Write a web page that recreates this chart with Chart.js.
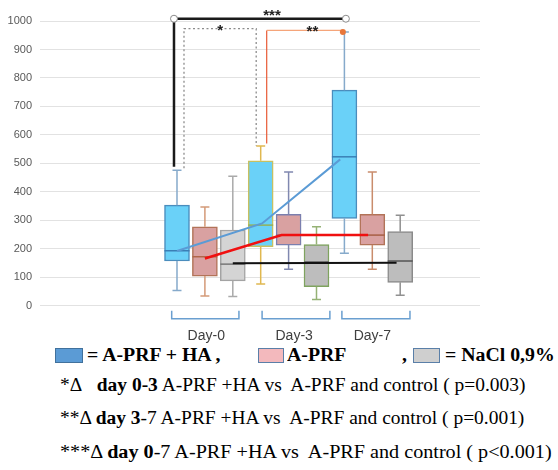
<!DOCTYPE html>
<html>
<head>
<meta charset="utf-8">
<script src="https://cdn.jsdelivr.net/npm/chart.js@4.4.1/dist/chart.umd.min.js"></script>
<style>
  body { margin: 0; background: #fff; width: 558px; height: 470px; position: relative; overflow: hidden; font-family: "Liberation Serif", serif; color: #000; }
  #wrap { position: absolute; left: 0; top: 0; width: 558px; height: 345px; }
  .sq { position: absolute; top: 348px; height: 15px; box-sizing: border-box; border: 1.5px solid #5a7fa8; }
  .lg { position: absolute; top: 345px; font-weight: bold; font-size: 18px; line-height: 20px; white-space: pre; transform: scaleX(1.1); transform-origin: left center; }
  .note { position: absolute; left: 60px; font-size: 18px; line-height: 20px; white-space: pre; transform: scaleX(1.08); transform-origin: left center; }
</style>
</head>
<body>
<div id="wrap"><canvas id="chart"></canvas></div>

<div class="sq" style="left:55px;width:28px;background:#5b9bd5;border-color:#41719c"></div>
<div class="lg" style="left:87px">= A-PRF + HA ,</div>
<div class="sq" style="left:258px;width:26px;background:#f3b9bd"></div>
<div class="lg" style="left:287px">A-PRF</div>
<div class="lg" style="left:402px">,</div>
<div class="sq" style="left:413px;width:27px;background:#cfcfcf"></div>
<div class="lg" style="left:445px">= NaCl 0,9%</div>

<div class="note" style="top:375px">*Δ&nbsp;&nbsp;&nbsp;<b>day 0-3</b> A-PRF +HA vs&nbsp; A-PRF and control ( p=0.003)</div>
<div class="note" style="top:408px">**Δ <b>day 3</b>-7 A-PRF +HA vs&nbsp; A-PRF and control ( p=0.001)</div>
<div class="note" style="top:442px;transform:scaleX(1.12)">***Δ <b>day 0</b>-7 A-PRF +HA vs&nbsp; A-PRF and control ( p&lt;0.001)</div>

<script>
// days along the x axis, three boxes per day: A-PRF + HA, A-PRF, NaCl 0,9%
const days = ['Day-0', 'Day-3', 'Day-7'];
const dayPos = [1.05, 4.2, 7.0];
const dayFrom = [-0.19, 3.05, 5.91];
const dayTo = [2.22, 5.48, 8.35];

const boxPos = [0, 1, 2, 3, 4, 5, 6, 7, 8];
const whiskerLow  = [53, 34, 32, 76, 128, 22, 184, 128, 37];
const q1          = [157, 104, 87, 207, 213, 67, 307, 213, 82];
const median      = [193, 172, 146, 283, 248, 154, 523, 248, 157];
const q3          = [353, 277, 266, 509, 321, 215, 757, 321, 260];
const whiskerHigh = [476, 347, 455, 561, 470, 277, 961, 470, 318];

// trend lines
const haX = [0, 3.05, 5.85];
const haMean = [192, 289, 514];
const prfX = [1, 3.75, 6.85];
const prfMean = [166, 248, 248];
const naclX = [2, 5, 7.87];
const naclMean = [149, 150, 151];

// significance brackets
const sigLabels = ['*', '**', '***'];
const sigFrom = [0, 3, 0];
const sigTo = [3, 6, 6];
const sigLevel = [973, 967, 1008];
const sigStart = [483, 570, 488];
const sigEnd = [561, 961, 1008];

const boxFill = ['#6ad1f8', '#d9a1a1', '#d4d4d4', '#6ad1f8', '#d9a1a1', '#bdbdbd', '#6ad1f8', '#d9a1a1', '#bdbdbd'];
const boxBorder = ['#4a8dbd', '#b27358', '#a3a3a3', '#c8c060', '#7b7fae', '#7fa35f', '#4a8dbd', '#b27358', '#8a8a8a'];
const whiskerColor = ['#86aacb', '#d49a78', '#aaaaaa', '#e0b850', '#8088b0', '#95b275', '#86aacb', '#c98c6c', '#909090'];
const medianColor = ['#3a7fb5', '#b0664a', '#777777', '#94b058', '#8a6a8a', '#6a6a6a', '#3a7fb5', '#a85f45', '#555555'];

const boxExtras = {
  id: 'boxExtras',
  afterDatasetDraw(chart, args) {
    if (args.index !== 0) return;
    const { ctx, scales: { x, y } } = chart;
    const half = 12.5, cap = 4.5;
    ctx.save();
    ctx.lineWidth = 1.5;
    boxPos.forEach((p, i) => {
      const cx = x.getPixelForValue(p);
      const hi = y.getPixelForValue(whiskerHigh[i]);
      const lo = y.getPixelForValue(whiskerLow[i]);
      ctx.strokeStyle = whiskerColor[i];
      ctx.beginPath();
      ctx.moveTo(cx, y.getPixelForValue(q3[i])); ctx.lineTo(cx, hi);
      ctx.moveTo(cx - cap, hi); ctx.lineTo(cx + cap, hi);
      ctx.moveTo(cx, y.getPixelForValue(q1[i])); ctx.lineTo(cx, lo);
      ctx.moveTo(cx - cap, lo); ctx.lineTo(cx + cap, lo);
      ctx.stroke();
      const m = y.getPixelForValue(median[i]);
      ctx.strokeStyle = medianColor[i];
      ctx.beginPath();
      ctx.moveTo(cx - half, m); ctx.lineTo(cx + half, m);
      ctx.stroke();
    });
    ctx.restore();
  }
};

const annotations = {
  id: 'annotations',
  afterDraw(chart) {
    const { ctx, scales: { x, y }, chartArea } = chart;
    ctx.save();

    // day brackets under the axis
    ctx.strokeStyle = '#6a9fd0';
    ctx.lineWidth = 1.5;
    const b0 = chartArea.bottom + 5, b1 = chartArea.bottom + 13;
    days.forEach((d, i) => {
      const l = x.getPixelForValue(dayFrom[i]), r = x.getPixelForValue(dayTo[i]);
      ctx.beginPath();
      ctx.moveTo(l, b0); ctx.lineTo(l, b1); ctx.lineTo(r, b1); ctx.lineTo(r, b0);
      ctx.stroke();
    });

    // significance brackets
    const legOff = [[7, -4.5], [6, -1.5], [-3, 1.5]];
    const labelAt = [0.5, 0.6, 0.57];
    const labelDy = [6, 6, 1];
    sigLabels.forEach((lab, i) => {
      const l = x.getPixelForValue(boxPos[sigFrom[i]]) + legOff[i][0];
      const r = x.getPixelForValue(boxPos[sigTo[i]]) + legOff[i][1];
      const top = y.getPixelForValue(sigLevel[i]);
      const ys = y.getPixelForValue(sigStart[i]);
      const ye = y.getPixelForValue(sigEnd[i]);
      ctx.setLineDash([]);
      if (i === 0) {
        ctx.strokeStyle = '#8c8c8c'; ctx.lineWidth = 1.3; ctx.setLineDash([2, 2.5]);
        ctx.beginPath();
        ctx.moveTo(l, ys); ctx.lineTo(l, top); ctx.lineTo(r, top); ctx.lineTo(r, ye);
        ctx.stroke();
      } else if (i === 1) {
        ctx.lineWidth = 1.2;
        ctx.strokeStyle = '#e85a35';
        ctx.beginPath(); ctx.moveTo(l, ys); ctx.lineTo(l, top); ctx.stroke();
        ctx.strokeStyle = '#f5a57a';
        ctx.beginPath(); ctx.moveTo(l, top); ctx.lineTo(r, top); ctx.lineTo(r, ye); ctx.stroke();
        ctx.fillStyle = '#e8773a';
        ctx.beginPath(); ctx.arc(r, ye, 3, 0, Math.PI * 2); ctx.fill();
      } else {
        ctx.strokeStyle = '#1a1a1a'; ctx.lineWidth = 2.5;
        ctx.beginPath();
        ctx.moveTo(l, ys); ctx.lineTo(l, top); ctx.lineTo(r, top);
        ctx.stroke();
        ctx.lineWidth = 1; ctx.strokeStyle = '#8a8a8a'; ctx.fillStyle = '#fff';
        [l, r].forEach(px => {
          ctx.beginPath(); ctx.arc(px, top, 3.5, 0, Math.PI * 2); ctx.fill(); ctx.stroke();
        });
      }
      ctx.setLineDash([]);
      ctx.fillStyle = '#222';
      ctx.font = 'bold 15px "Liberation Sans"';
      ctx.textAlign = 'center';
      ctx.textBaseline = 'alphabetic';
      ctx.fillText(lab, l + (r - l) * labelAt[i], top + labelDy[i]);
    });
    ctx.restore();
  }
};

new Chart(document.getElementById('chart'), {
  type: 'bar',
  data: {
    datasets: [
      {
        type: 'bar',
        data: boxPos.map((p, i) => ({ x: p, y: [q1[i], q3[i]] })),
        backgroundColor: boxFill,
        borderColor: boxBorder,
        borderWidth: 1.5,
        borderSkipped: false,
        barThickness: 25,
        order: 2
      },
      {
        type: 'line',
        data: haX.map((v, i) => ({ x: v, y: haMean[i] })),
        borderColor: '#5b9bd5', borderWidth: 2, pointRadius: 0, order: 1
      },
      {
        type: 'line',
        data: prfX.map((v, i) => ({ x: v, y: prfMean[i] })),
        borderColor: '#f01010', borderWidth: 2.5, pointRadius: 0, order: 1
      },
      {
        type: 'line',
        data: naclX.map((v, i) => ({ x: v, y: naclMean[i] })),
        borderColor: '#111', borderWidth: 2, pointRadius: 0, order: 1
      }
    ]
  },
  options: {
    responsive: true,
    maintainAspectRatio: false,
    animation: false,
    layout: { padding: { top: 21, right: 78, left: 0, bottom: 0 } },
    plugins: { legend: { display: false }, tooltip: { enabled: false } },
    scales: {
      x: {
        type: 'linear',
        min: -4.91,
        max: 10.86,
        offset: false,
        grid: { display: false },
        border: { display: false },
        afterBuildTicks: (s) => { s.ticks = dayPos.map(v => ({ value: v })); },
        afterFit: (s) => { s.height = 39.3; },
        ticks: {
          callback: (v, i) => days[i],
          autoSkip: false,
          maxRotation: 0,
          padding: 14,
          color: '#404040',
          font: { family: '"Liberation Sans"', size: 14 }
        }
      },
      y: {
        min: 0,
        max: 1000,
        afterFit: (s) => { s.width = 40; },
        grid: { color: '#e2e2e2', drawTicks: false },
        border: { display: false },
        ticks: {
          stepSize: 100,
          padding: 8,
          color: '#595959',
          callback: (v) => String(v),
          font: { family: '"Liberation Sans"', size: 11 }
        }
      }
    }
  },
  plugins: [boxExtras, annotations]
});
</script>
</body>
</html>
